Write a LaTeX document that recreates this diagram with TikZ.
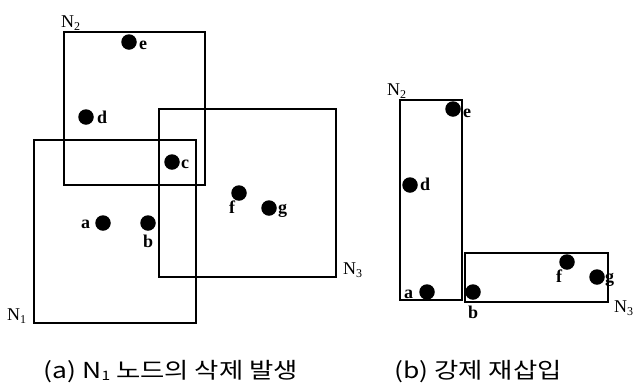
\documentclass[tikz,border=0pt]{standalone}
\usepackage{fontspec}
\usepackage{graphicx}
\setmainfont{Liberation Serif}
\newfontfamily\krfont{Noto Sans CJK KR}
\newcommand\lowsub[1]{\raisebox{-3pt}{\fontsize{12}{12}\selectfont #1}}
\newcommand\capsub[1]{\raisebox{-2pt}{\fontsize{13}{13}\selectfont #1}}
\newcommand\widecap[1]{\scalebox{1.2}[1]{#1}}
\begin{document}
\begin{tikzpicture}[x=1pt,y=-1pt,
  box/.style={draw=black,line width=2pt},
  dot/.style={circle,fill=black,inner sep=0pt,minimum size=15.5pt},
  lab/.style={anchor=base west,inner sep=0pt,font=\bfseries\fontsize{18}{20}\selectfont},
  nlab/.style={anchor=base west,inner sep=0pt,font=\fontsize{18}{20}\selectfont},
  captext/.style={inner sep=0pt,font=\krfont\fontsize{22}{24}\selectfont}]
\useasboundingbox (0,0) rectangle (634,389);
% (a)
\draw[box] (64,32) rectangle (205,185);
\draw[box] (34,140) rectangle (196,323);
\draw[box] (159,109) rectangle (336,277);
\node[nlab] (aN2) at (61,27) {N\lowsub{2}};
\node[nlab] (aN1) at (7,320) {N\lowsub{1}};
\node[nlab] (aN3) at (343,274) {N\lowsub{3}};
\node[dot] (ae) at (129,42) {};
\node[dot] (ad) at (86,117) {};
\node[dot] (ac) at (172,162) {};
\node[dot] (aa) at (103,223) {};
\node[dot] (ab) at (148,223) {};
\node[dot] (af) at (239,193) {};
\node[dot] (ag) at (269,208) {};
\node[lab] (aelab) at (139,49) {e};
\node[lab] (adlab) at (97,123) {d};
\node[lab] (aclab) at (181,168) {c};
\node[lab] (aalab) at (81,228) {a};
\node[lab] (ablab) at (143,247) {b};
\node[lab] (aflab) at (229,213) {f};
\node[lab] (aglab) at (278,213) {g};
% (b)
\draw[box] (400,100) rectangle (462,300);
\draw[box] (465,253) rectangle (608,302);
\node[nlab] (bN2) at (387,95) {N\lowsub{2}};
\node[nlab] (bN3) at (614,312) {N\lowsub{3}};
\node[dot] (be) at (453,109) {};
\node[dot] (bd) at (410,185) {};
\node[dot] (ba) at (427,292) {};
\node[dot] (bb) at (473,292) {};
\node[dot] (bf) at (567,262) {};
\node[dot] (bg) at (597,277) {};
\node[lab] (belab) at (463,117) {e};
\node[lab] (bdlab) at (420,190) {d};
\node[lab] (balab) at (404,298) {a};
\node[lab] (bblab) at (468,318) {b};
\node[lab] (bflab) at (556,282) {f};
\node[lab] (bglab) at (605,282) {g};
% captions
\node[captext] (capa) at (171,372) {\widecap{(a) N\capsub{1} 노드의 삭제 발생}};
\node[captext] (capb) at (478,372) {\widecap{(b) 강제 재삽입}};
\end{tikzpicture}
\end{document}
